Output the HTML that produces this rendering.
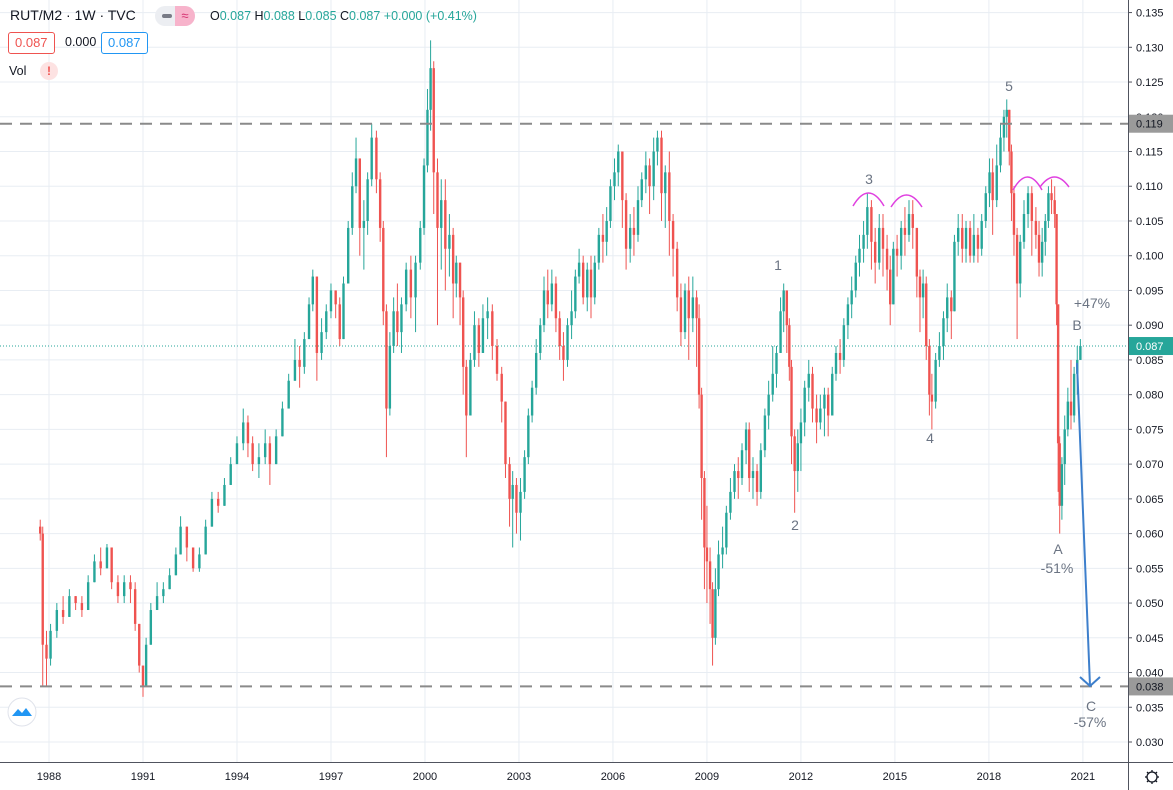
<!DOCTYPE html>
<html><head><meta charset="utf-8"><style>
html,body{margin:0;padding:0;background:#fff;width:1173px;height:790px;overflow:hidden;font-family:"Liberation Sans",sans-serif}
#hdr{position:absolute;left:10px;top:7px;font-size:14px;color:#131722;white-space:nowrap}
.box{position:absolute;height:20px;line-height:20px;font-size:13px;padding:0 6px;border-radius:3px;background:#fff}
</style></head><body>
<svg id="chart" width="1173" height="790" style="position:absolute;left:0;top:0">
<g id="grid"></g>
<g id="marks"></g>
<g id="axes"></g>
</svg>
<div id="hdr">RUT/M2 · 1W · TVC</div>
<div style="position:absolute;left:155px;top:6px;width:40px;height:20px;border-radius:10px;background:#eceef2;overflow:hidden"><div style="position:absolute;left:7px;top:8px;width:10px;height:4px;background:#787b86;border-radius:2px"></div><div style="position:absolute;left:20px;top:0;width:20px;height:20px;background:#f7b3cb;color:#d5306f;font-size:13px;text-align:center;line-height:20px">≈</div></div>
<div style="position:absolute;left:210px;top:9px;font-size:12.5px;color:#26a69a;white-space:nowrap"><span style="color:#131722">O</span>0.087 <span style="color:#131722">H</span>0.088 <span style="color:#131722">L</span>0.085 <span style="color:#131722">C</span>0.087 +0.000 (+0.41%)</div>
<div class="box" style="left:8px;top:32px;border:1px solid #ef5350;color:#ef5350">0.087</div>
<div style="position:absolute;left:65px;top:35px;font-size:12.5px;color:#131722">0.000</div>
<div class="box" style="left:101px;top:32px;border:1px solid #2196f3;color:#2196f3">0.087</div>
<div style="position:absolute;left:9px;top:64px;font-size:12.5px;color:#131722">Vol</div>
<div style="position:absolute;left:40px;top:62px;width:18px;height:18px;border-radius:9px;background:#fde2e2;color:#ef5350;font-size:12px;font-weight:bold;text-align:center;line-height:18px">!</div>
<script>
const dates=[1987.72,1987.80,1987.92,1988.05,1988.25,1988.45,1988.65,1988.85,1989.05,1989.25,1989.45,1989.65,1989.85,1990.0,1990.2,1990.4,1990.6,1990.75,1990.88,1991.0,1991.1,1991.25,1991.45,1991.65,1991.85,1992.05,1992.2,1992.4,1992.6,1992.8,1993.0,1993.2,1993.4,1993.6,1993.8,1994.0,1994.2,1994.35,1994.5,1994.7,1994.9,1995.05,1995.25,1995.45,1995.65,1995.85,1996.0,1996.15,1996.3,1996.42,1996.55,1996.7,1996.85,1997.0,1997.15,1997.28,1997.4,1997.55,1997.68,1997.8,1997.92,1998.05,1998.17,1998.3,1998.45,1998.57,1998.67,1998.77,1998.88,1999.0,1999.12,1999.25,1999.4,1999.55,1999.7,1999.85,1999.97,2000.08,2000.18,2000.28,2000.4,2000.52,2000.65,2000.78,2000.9,2001.0,2001.12,2001.22,2001.32,2001.45,2001.58,2001.72,2001.85,2002.0,2002.15,2002.3,2002.45,2002.57,2002.7,2002.8,2002.92,2003.05,2003.18,2003.3,2003.42,2003.55,2003.68,2003.8,2003.92,2004.05,2004.18,2004.3,2004.42,2004.55,2004.68,2004.8,2004.92,2005.05,2005.18,2005.3,2005.42,2005.55,2005.68,2005.8,2005.92,2006.05,2006.17,2006.3,2006.42,2006.55,2006.67,2006.8,2006.92,2007.05,2007.17,2007.3,2007.42,2007.55,2007.67,2007.8,2007.92,2008.05,2008.17,2008.3,2008.42,2008.55,2008.67,2008.75,2008.83,2008.92,2009.0,2009.1,2009.18,2009.27,2009.37,2009.5,2009.62,2009.75,2009.88,2010.0,2010.12,2010.25,2010.35,2010.47,2010.6,2010.72,2010.85,2010.97,2011.1,2011.22,2011.35,2011.45,2011.55,2011.63,2011.7,2011.8,2011.9,2012.0,2012.12,2012.25,2012.37,2012.5,2012.62,2012.75,2012.87,2013.0,2013.12,2013.25,2013.37,2013.5,2013.62,2013.75,2013.87,2014.0,2014.12,2014.25,2014.37,2014.5,2014.62,2014.75,2014.85,2014.95,2015.07,2015.2,2015.32,2015.45,2015.57,2015.7,2015.8,2015.9,2016.0,2016.1,2016.18,2016.3,2016.42,2016.55,2016.67,2016.8,2016.9,2017.02,2017.15,2017.27,2017.4,2017.52,2017.65,2017.77,2017.9,2018.02,2018.12,2018.25,2018.37,2018.48,2018.57,2018.65,2018.72,2018.8,2018.9,2019.0,2019.12,2019.25,2019.37,2019.5,2019.6,2019.7,2019.8,2019.9,2020.0,2020.1,2020.16,2020.21,2020.26,2020.33,2020.42,2020.52,2020.62,2020.72,2020.82,2020.92];
const closes=[0.060,0.044,0.042,0.046,0.049,0.048,0.051,0.050,0.049,0.053,0.056,0.055,0.058,0.053,0.051,0.053,0.052,0.047,0.041,0.038,0.044,0.049,0.051,0.052,0.054,0.057,0.061,0.058,0.055,0.057,0.061,0.065,0.064,0.067,0.070,0.073,0.076,0.073,0.070,0.071,0.073,0.070,0.074,0.078,0.082,0.085,0.084,0.088,0.093,0.097,0.086,0.089,0.092,0.095,0.093,0.088,0.096,0.104,0.110,0.114,0.104,0.105,0.111,0.117,0.111,0.104,0.092,0.078,0.087,0.092,0.089,0.093,0.098,0.094,0.099,0.104,0.113,0.121,0.127,0.112,0.104,0.108,0.101,0.103,0.096,0.099,0.094,0.084,0.077,0.085,0.090,0.086,0.091,0.092,0.087,0.083,0.079,0.070,0.065,0.067,0.063,0.066,0.071,0.077,0.081,0.086,0.090,0.095,0.093,0.096,0.091,0.087,0.085,0.090,0.092,0.097,0.099,0.094,0.098,0.094,0.099,0.103,0.102,0.105,0.110,0.112,0.115,0.108,0.101,0.104,0.103,0.108,0.111,0.113,0.110,0.115,0.117,0.109,0.112,0.105,0.101,0.094,0.089,0.095,0.091,0.094,0.091,0.080,0.068,0.058,0.056,0.052,0.045,0.052,0.057,0.058,0.063,0.066,0.069,0.068,0.072,0.075,0.068,0.069,0.066,0.072,0.077,0.080,0.083,0.086,0.092,0.095,0.090,0.084,0.074,0.069,0.073,0.076,0.081,0.083,0.078,0.076,0.078,0.080,0.077,0.083,0.086,0.085,0.090,0.093,0.095,0.099,0.101,0.103,0.107,0.102,0.099,0.104,0.101,0.098,0.093,0.101,0.100,0.104,0.103,0.106,0.104,0.097,0.094,0.096,0.087,0.080,0.079,0.085,0.087,0.091,0.094,0.092,0.102,0.104,0.101,0.104,0.100,0.103,0.101,0.105,0.109,0.112,0.108,0.113,0.117,0.120,0.121,0.115,0.109,0.103,0.096,0.102,0.106,0.109,0.105,0.103,0.099,0.102,0.105,0.109,0.108,0.106,0.093,0.073,0.064,0.070,0.075,0.079,0.077,0.083,0.085,0.087];
const highs=[0.062,0.061,0.046,0.047,0.050,0.051,0.052,0.051,0.051,0.054,0.057,0.058,0.0585,0.058,0.054,0.054,0.054,0.053,0.047,0.041,0.045,0.050,0.053,0.053,0.055,0.058,0.0625,0.061,0.058,0.058,0.062,0.066,0.066,0.068,0.071,0.074,0.078,0.077,0.074,0.073,0.075,0.074,0.075,0.079,0.083,0.088,0.087,0.089,0.094,0.098,0.097,0.091,0.093,0.096,0.095,0.094,0.097,0.105,0.112,0.117,0.114,0.108,0.112,0.119,0.118,0.112,0.105,0.093,0.089,0.094,0.096,0.094,0.099,0.100,0.100,0.105,0.114,0.124,0.131,0.128,0.114,0.111,0.111,0.106,0.104,0.100,0.099,0.095,0.085,0.086,0.092,0.091,0.093,0.094,0.093,0.088,0.084,0.079,0.071,0.069,0.068,0.068,0.072,0.078,0.082,0.088,0.091,0.097,0.098,0.098,0.097,0.092,0.089,0.091,0.095,0.098,0.101,0.100,0.099,0.100,0.100,0.104,0.106,0.107,0.111,0.114,0.116,0.115,0.109,0.106,0.107,0.110,0.112,0.115,0.114,0.117,0.118,0.118,0.113,0.115,0.106,0.102,0.096,0.096,0.097,0.097,0.095,0.093,0.081,0.069,0.064,0.058,0.053,0.055,0.059,0.061,0.064,0.068,0.070,0.071,0.073,0.076,0.076,0.071,0.070,0.073,0.078,0.082,0.087,0.087,0.094,0.096,0.095,0.091,0.085,0.075,0.075,0.078,0.082,0.085,0.084,0.080,0.080,0.081,0.081,0.084,0.087,0.088,0.091,0.094,0.097,0.100,0.103,0.105,0.109,0.108,0.104,0.106,0.106,0.103,0.100,0.102,0.103,0.105,0.107,0.108,0.108,0.104,0.098,0.098,0.097,0.088,0.083,0.086,0.089,0.092,0.096,0.095,0.103,0.106,0.106,0.105,0.105,0.106,0.104,0.106,0.110,0.114,0.114,0.116,0.119,0.121,0.1225,0.121,0.116,0.110,0.104,0.103,0.108,0.110,0.110,0.107,0.105,0.104,0.106,0.110,0.111,0.110,0.106,0.093,0.074,0.071,0.077,0.081,0.085,0.084,0.087,0.088];
const lows=[0.059,0.038,0.038,0.041,0.045,0.047,0.048,0.049,0.048,0.049,0.053,0.054,0.055,0.052,0.050,0.050,0.050,0.046,0.040,0.0365,0.038,0.044,0.049,0.050,0.052,0.054,0.057,0.056,0.0545,0.0545,0.057,0.061,0.063,0.064,0.067,0.070,0.072,0.071,0.069,0.068,0.070,0.067,0.070,0.074,0.078,0.082,0.081,0.083,0.088,0.092,0.082,0.085,0.088,0.091,0.091,0.087,0.088,0.096,0.103,0.109,0.100,0.098,0.103,0.110,0.109,0.102,0.090,0.071,0.077,0.086,0.087,0.086,0.092,0.091,0.089,0.098,0.103,0.112,0.118,0.106,0.090,0.098,0.095,0.097,0.091,0.094,0.090,0.080,0.071,0.077,0.084,0.084,0.086,0.088,0.085,0.082,0.076,0.068,0.061,0.058,0.060,0.059,0.065,0.070,0.076,0.080,0.085,0.089,0.091,0.092,0.089,0.085,0.082,0.084,0.088,0.091,0.096,0.093,0.092,0.091,0.093,0.098,0.099,0.100,0.104,0.108,0.110,0.104,0.098,0.099,0.100,0.102,0.107,0.109,0.106,0.108,0.113,0.105,0.104,0.100,0.097,0.092,0.087,0.088,0.085,0.089,0.084,0.078,0.062,0.052,0.050,0.047,0.041,0.044,0.051,0.055,0.057,0.062,0.065,0.065,0.067,0.070,0.066,0.065,0.064,0.065,0.071,0.075,0.079,0.081,0.086,0.089,0.086,0.082,0.070,0.063,0.066,0.069,0.074,0.079,0.076,0.073,0.075,0.074,0.074,0.077,0.082,0.083,0.084,0.088,0.091,0.094,0.097,0.099,0.101,0.098,0.096,0.098,0.097,0.095,0.090,0.093,0.097,0.098,0.100,0.102,0.101,0.094,0.089,0.091,0.085,0.077,0.075,0.078,0.084,0.085,0.089,0.088,0.092,0.100,0.099,0.099,0.099,0.099,0.099,0.100,0.104,0.107,0.103,0.107,0.112,0.115,0.117,0.113,0.105,0.100,0.088,0.094,0.101,0.104,0.100,0.101,0.097,0.097,0.100,0.104,0.106,0.104,0.090,0.066,0.060,0.062,0.067,0.074,0.075,0.076,0.080,0.085];
const yTicks=[0.030,0.035,0.040,0.045,0.050,0.055,0.060,0.065,0.070,0.075,0.080,0.085,0.090,0.095,0.100,0.105,0.110,0.115,0.120,0.125,0.130,0.135];
const xTicks=[1988,1991,1994,1997,2000,2003,2006,2009,2012,2015,2018,2021];
const levels=[0.119,0.038];
const lastPrice=0.087;

const NS='http://www.w3.org/2000/svg';
const PW=1128, PH=762;
function X(t){return 49+(t-1988)*31.33;}
function Y(v){return 742-(v-0.030)*6947;}
function mk(parent,tag,attrs){const e=document.createElementNS(NS,tag);for(const k in attrs)e.setAttribute(k,attrs[k]);parent.appendChild(e);return e;}
const grid=document.getElementById('grid'),marks=document.getElementById('marks'),axes=document.getElementById('axes');

yTicks.forEach(v=>{
  const l=mk(grid,'line',{x1:0,x2:PW,y1:Y(v),y2:Y(v),stroke:'#e8edf3','stroke-width':1});
  
  
});
xTicks.forEach(t=>{
  const l=mk(grid,'line',{x1:X(t),x2:X(t),y1:0,y2:PH,stroke:'#e8edf3','stroke-width':1});
  
  
});

// last price dotted line
const lp=mk(marks,'line',{x1:0,x2:PW,y1:Y(lastPrice),y2:Y(lastPrice),stroke:'#26a69a','stroke-width':1,'stroke-dasharray':'1 2'});



for(let i=0;i<dates.length;i++){
  const o=i===0?0.061:closes[i-1], c=closes[i];
  const col=c>=o?'#26a69a':'#ef5350';
  const x=X(dates[i]);
  const g=mk(marks,'g',{});
  
  
  mk(g,'line',{x1:x,x2:x,y1:Y(highs[i]),y2:Y(lows[i]),stroke:col,'stroke-width':1});
  const top=Math.min(Y(o),Y(c)),h=Math.max(1,Math.abs(Y(o)-Y(c)));
  mk(g,'rect',{x:x-1.2,y:top,width:2.4,height:h,fill:col});
}

levels.forEach(v=>{
  const l=mk(marks,'line',{x1:0,x2:PW,y1:Y(v),y2:Y(v),stroke:'#8a8a8a','stroke-width':2,'stroke-dasharray':'12 8'});
  
  
});

// annotations
const notes=[['1',778,270],['2',795,530],['3',869,184],['4',930,443],['5',1009,91],['A',1058,554],['-51%',1057,573],['+47%',1092,308],['B',1077,330],['C',1091,711],['-57%',1090,727]];
notes.forEach(n=>{
  const t=mk(marks,'text',{x:n[1],y:n[2],'text-anchor':'middle','font-size':14,fill:'#6b7483','font-family':'Liberation Sans, sans-serif'});
  t.textContent=n[0];
  
  
});
const arcs=[[853,206,884,206,193],[891,207,922,207,195],[1013,190,1042,190,177],[1040,187,1069,187,177]];
arcs.forEach(a=>{
  const mx=(a[0]+a[2])/2;
  const p=mk(marks,'path',{d:`M${a[0]},${a[1]} Q${mx},${2*a[4]-a[1]} ${a[2]},${a[3]}`,fill:'none',stroke:'#e040e0','stroke-width':1.5});
  
  
});
const ar=mk(marks,'path',{d:'M1077,363 L1090,686 M1080,677 L1090,686 L1100,677',fill:'none',stroke:'#3d7fcc','stroke-width':2});



// axes
mk(axes,'rect',{x:PW,y:0,width:1173-PW,height:790,fill:'#fff'});
mk(axes,'rect',{x:0,y:PH,width:1173,height:28,fill:'#fff'});
mk(axes,'line',{x1:PW+0.5,x2:PW+0.5,y1:0,y2:790,stroke:'#50535e','stroke-width':1});
mk(axes,'line',{x1:0,x2:1173,y1:PH+0.5,y2:PH+0.5,stroke:'#50535e','stroke-width':1});
yTicks.forEach(v=>{
  mk(axes,'line',{x1:PW,x2:PW+4,y1:Y(v),y2:Y(v),stroke:'#50535e'});
  const t=mk(axes,'text',{x:1136,y:Y(v)+4,'font-size':11,fill:'#131722'});
  t.textContent=v.toFixed(3);
  
  
});
xTicks.forEach(t0=>{
  const t=mk(axes,'text',{x:X(t0),y:780,'text-anchor':'middle','font-size':11,fill:'#131722'});
  t.textContent=t0;
  
  
});
function plabel(v,bg,fg,name){
  mk(axes,'rect',{x:PW+1,y:Y(v)-9,width:44,height:18,fill:bg});
  const t=mk(axes,'text',{x:1136,y:Y(v)+4,'font-size':11,fill:fg});
  t.textContent=v.toFixed(3);
  
  
}
levels.forEach(v=>plabel(v,'#9a9a9a','#131722','level-price-label'));
plabel(lastPrice,'#26a69a','#ffffff','last-price-label');
// gear icon
const gear=mk(axes,'g',{});


mk(gear,'circle',{cx:1152,cy:777,r:5,fill:'none',stroke:'#131722','stroke-width':1.3});
[[0,-7],[0,7],[-7,0],[7,0],[-5,-5],[5,5],[-5,5],[5,-5]].forEach(d=>mk(gear,'line',{x1:1152+d[0]*0.75,y1:777+d[1]*0.75,x2:1152+d[0],y2:777+d[1],stroke:'#131722','stroke-width':1.3}));
// logo
const logo=mk(axes,'g',{});


mk(logo,'circle',{cx:22,cy:712,r:14,fill:'#fff',stroke:'#e0e3eb'});
mk(logo,'path',{d:'M12,716 L18,709 L22,713 L26,708 L32,716 Z',fill:'#2196f3'});
</script>
</body></html>
